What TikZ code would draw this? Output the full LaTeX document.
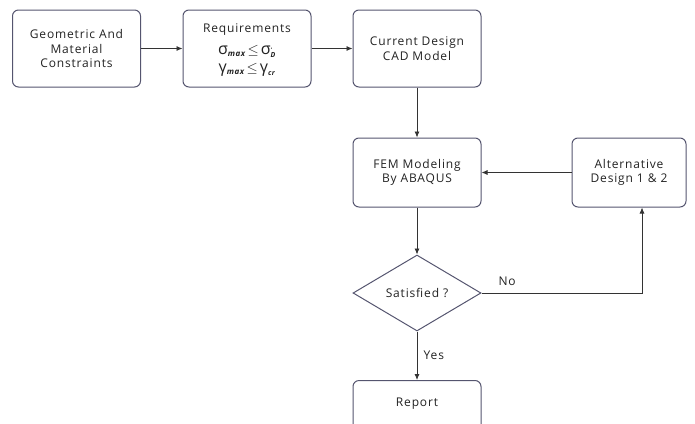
\documentclass[tikz,border=0pt]{standalone}
\usepackage{fontspec}
\setmainfont{Open Sans}[LetterSpace=7]
\usetikzlibrary{shapes.geometric,arrows.meta}
\definecolor{bordc}{HTML}{55556F}
\definecolor{linec}{HTML}{333333}
\definecolor{txtc}{HTML}{222222}
\usepackage{amsmath}
\newcommand{\reqline}[3]{{\fontsize{16}{16}\selectfont #1}$_{\text{\bfseries\itshape\fontsize{8}{8}\selectfont max}}$\,{\fontsize{15}{15}\selectfont$\leq$}\,{\fontsize{16}{16}\selectfont #1}$^{#3}_{\text{\bfseries\itshape\fontsize{7}{7}\selectfont #2}}$}
\begin{document}
\begin{tikzpicture}[x=1pt,y=-1pt,
  box/.style={draw=bordc,line width=1pt,rounded corners=6pt,minimum width=128pt,minimum height=77pt,align=center,font=\fontsize{12}{14.5}\selectfont,text=txtc,inner sep=0pt},
  dia/.style={draw=bordc,line width=1pt,diamond,aspect=1.68,minimum width=128pt,minimum height=76pt,inner sep=0pt,font=\fontsize{12}{14.5}\selectfont,text=txtc},
  conn/.style={draw=linec,line width=0.8pt,-{Latex[length=6pt,width=5pt]}},
  lbl/.style={font=\fontsize{12}{14.5}\selectfont,text=txtc}]
\useasboundingbox (0,0) rectangle (695,423);
\begin{scope}
\clip (0,0) rectangle (695,423);
\node[box] (geo) at (76.5,48.5) {Geometric And\\Material\\Constraints};
\node[box,text depth=0pt] (req) at (247,48.5) {Requirements\\[7pt]\reqline{σ}{D}{\text{\fontsize{5}{5}\selectfont•}}\\[4pt]\reqline{γ}{cr}{}};
\node[box] (cad) at (417,48.5) {Current Design\\CAD Model};
\node[box,minimum height=69pt] (fem) at (417,172.5) {FEM Modeling\\By ABAQUS};
\node[box,minimum height=69pt,minimum width=114pt] (alt) at (629,172.5) {Alternative\\Design 1 \& 2};
\node[dia] (sat) at (417,293) {Satisfied ?};
\node[box,minimum height=60pt,anchor=north] (rep) at (417,380) {};
\node[lbl] at (417,404) {Report};
\coordinate (corner) at (642,293);
\draw[conn] (geo) -- (req);
\draw[conn] (req) -- (cad);
\draw[conn] (cad) -- (fem);
\draw[conn] (alt.west) -- (fem.east);
\draw[conn] (fem) -- (sat);
\draw[conn] (sat.south) -- node[lbl,right=3pt]{Yes} (rep.north);
\draw[conn] (sat.east) -- node[lbl,above=4pt,pos=0.16]{No} (corner) -- (alt.south -| corner);
\end{scope}
\end{tikzpicture}
\end{document}
